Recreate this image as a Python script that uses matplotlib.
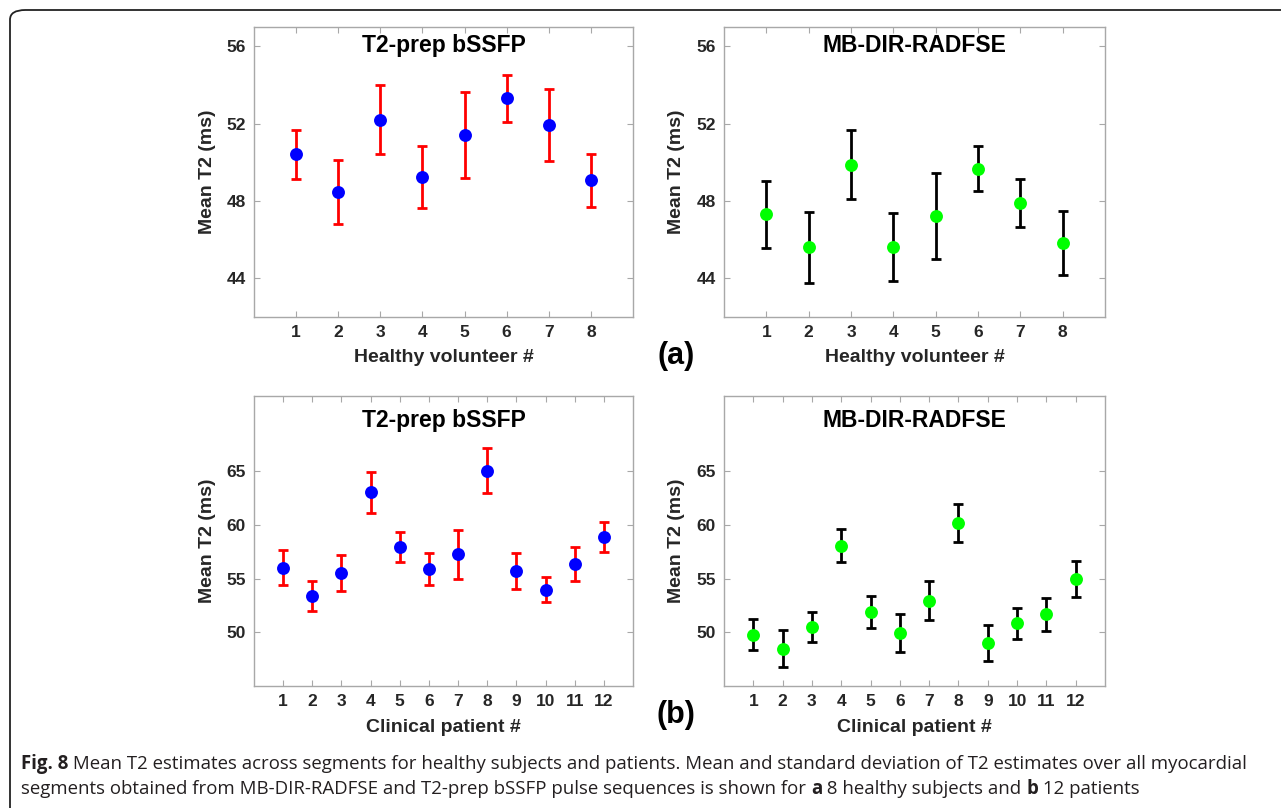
import matplotlib
matplotlib.use("Agg")
import matplotlib.pyplot as plt
from matplotlib.patches import FancyBboxPatch
import numpy as np

# healthy volunteers (a)
healthy_ids = [1, 2, 3, 4, 5, 6, 7, 8]
healthy_bssfp_mean = [50.41, 48.48, 52.21, 49.24, 51.43, 53.31, 51.93, 49.07]
healthy_bssfp_sd = [1.27, 1.65, 1.79, 1.58, 2.22, 1.22, 1.85, 1.37]
healthy_fse_mean = [47.31, 45.60, 49.88, 45.60, 47.22, 49.67, 47.90, 45.81]
healthy_fse_sd = [1.72, 1.82, 1.80, 1.76, 2.23, 1.17, 1.24, 1.65]

# clinical patients (b)
patient_ids = [1, 2, 3, 4, 5, 6, 7, 8, 9, 10, 11, 12]
patient_bssfp_mean = [56.02, 53.40, 55.56, 63.02, 57.96, 55.90, 57.28, 65.06, 55.71, 53.98, 56.36, 58.89]
patient_bssfp_sd = [1.60, 1.40, 1.67, 1.90, 1.42, 1.48, 2.28, 2.13, 1.66, 1.19, 1.59, 1.42]
patient_fse_mean = [49.78, 48.49, 50.49, 58.06, 51.91, 49.91, 52.96, 60.19, 49.01, 50.83, 51.67, 55.00]
patient_fse_sd = [1.43, 1.68, 1.42, 1.53, 1.51, 1.75, 1.78, 1.74, 1.65, 1.47, 1.51, 1.67]

W, H = 1281, 808
fig = plt.figure(figsize=(W / 100, H / 100), dpi=100)
plt.rcParams['font.family'] = ['Liberation Sans', 'DejaVu Sans']

txt_col = '#262626'
spine_col = '#a8a8a8'


def px_axes(left, top, right, bottom):
    return fig.add_axes([left / W, 1 - bottom / H, (right - left) / W, (bottom - top) / H])


def draw_panel(ax, x, mean, sd, dot_col, err_col, title, xlabel, ylim, yticks, title_y):
    ax.errorbar(x, mean, yerr=sd, fmt='none', ecolor=err_col, elinewidth=2.0,
                capsize=3.4, capthick=2.0, zorder=2)
    ax.plot(x, mean, 'o', color=dot_col, markersize=9.3, markeredgewidth=0, zorder=3)
    ax.set_xlim(0, len(x) + 1)
    ax.set_ylim(*ylim)
    ax.set_xticks(x)
    ax.set_yticks(yticks)
    ax.tick_params(direction='in', length=4, width=0.8, color=spine_col,
                   top=True, right=True, labelsize=12.5, labelcolor=txt_col, pad=6)
    for lab in ax.get_xticklabels() + ax.get_yticklabels():
        lab.set_fontweight('bold')
    for sp in ax.spines.values():
        sp.set_color(spine_col)
        sp.set_linewidth(1.0)
    ax.text(0.5, title_y, title, transform=ax.transAxes, ha='center', va='center',
            fontsize=16.5, fontweight='bold', color='black')
    ax.set_xlabel(xlabel, fontsize=14, fontweight='bold', color=txt_col)
    ax.set_ylabel('Mean T2 (ms)', fontsize=14, fontweight='bold', color=txt_col)
    # label centres measured from the panel edges
    ax.xaxis.set_label_coords(0.5, -41 / 290)
    ax.xaxis.label.set_va('center')
    ax.yaxis.set_label_coords(-47 / 379, 0.5)
    ax.yaxis.label.set_va('center')


ax1 = px_axes(254, 27, 633, 317)
ax2 = px_axes(724, 27, 1105, 317)
ax3 = px_axes(254, 396, 633, 686)
ax4 = px_axes(724, 396, 1105, 686)

draw_panel(ax1, healthy_ids, healthy_bssfp_mean, healthy_bssfp_sd, '#0000ff', '#ff0000',
           'T2-prep bSSFP', 'Healthy volunteer #', (42, 57), [44, 48, 52, 56], 0.935)
draw_panel(ax2, healthy_ids, healthy_fse_mean, healthy_fse_sd, '#00ff00', '#000000',
           'MB-DIR-RADFSE', 'Healthy volunteer #', (42, 57), [44, 48, 52, 56], 0.935)
draw_panel(ax3, patient_ids, patient_bssfp_mean, patient_bssfp_sd, '#0000ff', '#ff0000',
           'T2-prep bSSFP', 'Clinical patient #', (45, 72), [50, 55, 60, 65], 0.914)
draw_panel(ax4, patient_ids, patient_fse_mean, patient_fse_sd, '#00ff00', '#000000',
           'MB-DIR-RADFSE', 'Clinical patient #', (45, 72), [50, 55, 60, 65], 0.914)

fig.text(676 / W, 1 - 356 / H, '(a)', fontsize=22, fontweight='bold', ha='center', va='center')
fig.text(676 / W, 1 - 715 / H, '(b)', fontsize=22, fontweight='bold', ha='center', va='center')

# rounded frame of the figure panel
frame = FancyBboxPatch((10 / W, -0.05), 1.2, 1 - 10 / H + 0.05,
                       boxstyle='round,pad=0,rounding_size=0.012',
                       transform=fig.transFigure, fill=False, edgecolor='#222222',
                       linewidth=1.3, clip_on=False)
fig.patches.append(frame)

# caption, pieces of mixed weight laid out one after another
cap_font = ['Open Sans', 'DejaVu Sans']
cap_lines = [
    [('Fig. 8', 'bold'), (' Mean T2 estimates across segments for healthy subjects and patients. '
                          'Mean and standard deviation of T2 estimates over all myocardial', 'normal')],
    [('segments obtained from MB-DIR-RADFSE and T2-prep bSSFP pulse sequences is shown for ', 'normal'),
     ('a', 'bold'), (' 8 healthy subjects and ', 'normal'), ('b', 'bold'), (' 12 patients', 'normal')],
]
cap_y = [764, 789]
renderer = fig.canvas.get_renderer()
for line, yy in zip(cap_lines, cap_y):
    xx = 21
    for s, wt in line:
        t = fig.text(xx / W, 1 - yy / H, s, fontsize=13.4, fontweight=wt, family=cap_font,
                     ha='left', va='center', color='#231f20')
        bb = t.get_window_extent(renderer=renderer)
        xx += bb.width

fig.savefig('out.png', dpi=100)
